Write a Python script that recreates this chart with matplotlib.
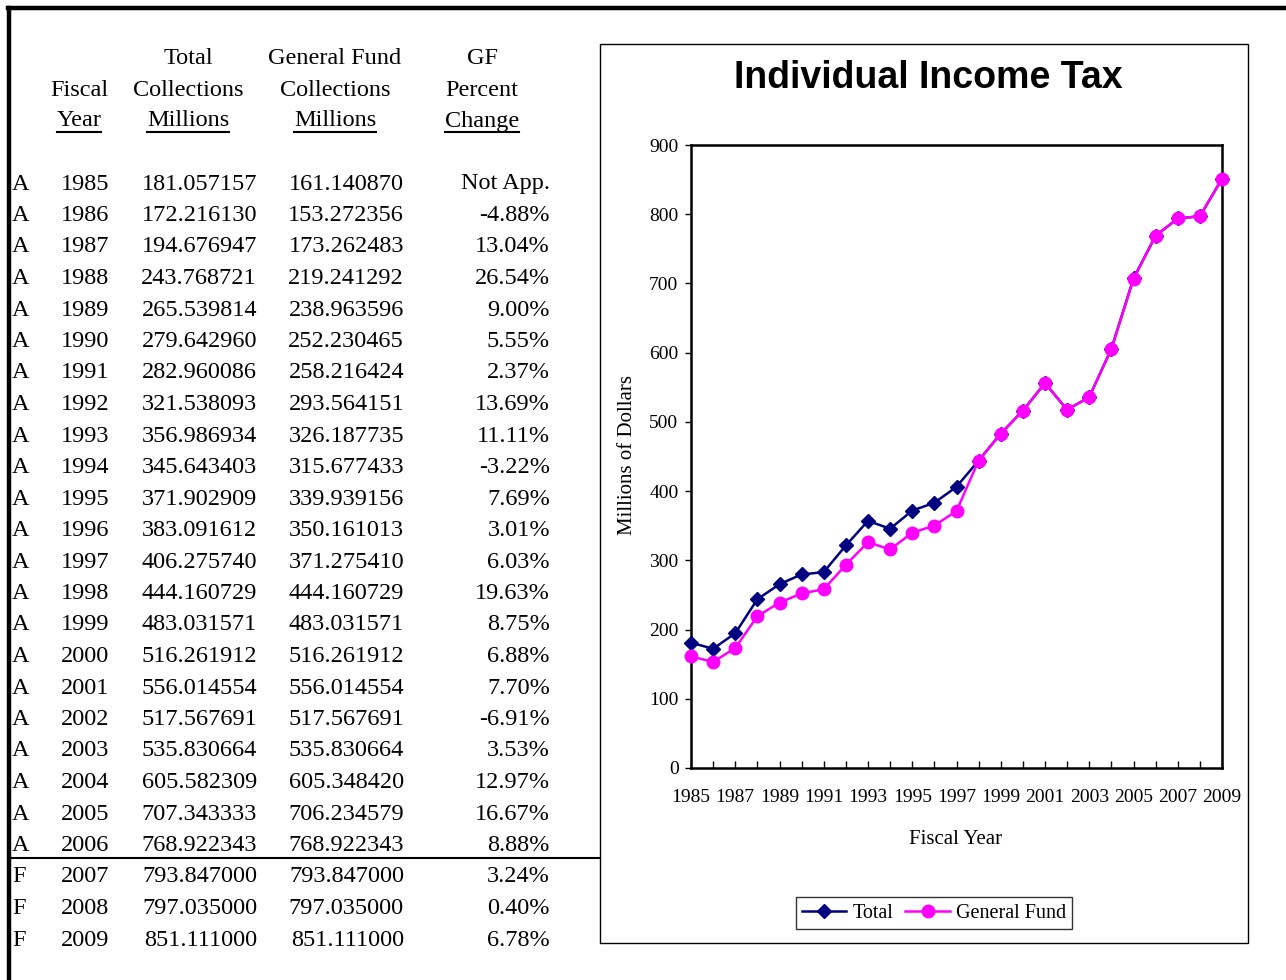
import matplotlib
matplotlib.use("Agg")
import matplotlib.pyplot as plt
from matplotlib.patches import Rectangle
from matplotlib.lines import Line2D

W, H = 1286, 980

status = ["A"] * 22 + ["F"] * 3
years = list(range(1985, 2010))
total = [181.057157, 172.216130, 194.676947, 243.768721, 265.539814, 279.642960,
         282.960086, 321.538093, 356.986934, 345.643403, 371.902909, 383.091612,
         406.275740, 444.160729, 483.031571, 516.261912, 556.014554, 517.567691,
         535.830664, 605.582309, 707.343333, 768.922343, 793.847000, 797.035000,
         851.111000]
general_fund = [161.140870, 153.272356, 173.262483, 219.241292, 238.963596, 252.230465,
                258.216424, 293.564151, 326.187735, 315.677433, 339.939156, 350.161013,
                371.275410, 444.160729, 483.031571, 516.261912, 556.014554, 517.567691,
                535.830664, 605.348420, 706.234579, 768.922343, 793.847000, 797.035000,
                851.111000]
pct_change = ["Not App.", "-4.88%", "13.04%", "26.54%", "9.00%", "5.55%", "2.37%",
              "13.69%", "11.11%", "-3.22%", "7.69%", "3.01%", "6.03%", "19.63%",
              "8.75%", "6.88%", "7.70%", "-6.91%", "3.53%", "12.97%", "16.67%",
              "8.88%", "3.24%", "0.40%", "6.78%"]

serif = "Liberation Serif"
sans = "Liberation Sans"

fig = plt.figure(figsize=(W / 100, H / 100), dpi=100)


def fx(x):
    return x / W


def fy(y):
    return 1 - y / H


# outer border (top and left)
fig.add_artist(Line2D([fx(9), fx(9)], [fy(8), fy(980)], color="black", lw=3.2))
fig.add_artist(Line2D([fx(8), fx(1286)], [fy(8), fy(8)], color="black", lw=3.2))

# table header
tsize = 17.5
headers = [
    (79, ["", "Fiscal", "Year"]),
    (188, ["Total", "Collections", "Millions"]),
    (335, ["General Fund", "Collections", "Millions"]),
    (482, ["GF", "Percent", "Change"]),
]
head_y = [58, 90, 121]
under = []
for cx, lines in headers:
    for hy, txt in zip(head_y, lines):
        if txt:
            t = fig.text(fx(cx), fy(hy), txt, ha="center", va="center",
                         fontsize=tsize, family=serif)
    under.append(t)

# table rows
row0, dy = 184, 31.5
for i in range(len(years)):
    y = fy(row0 + i * dy)
    fig.text(fx(12), y, status[i], ha="left", va="center", fontsize=tsize, family=serif)
    fig.text(fx(85), y, str(years[i]), ha="center", va="center", fontsize=tsize, family=serif)
    fig.text(fx(257), y, f"{total[i]:.6f}", ha="right", va="center", fontsize=tsize, family=serif)
    fig.text(fx(404), y, f"{general_fund[i]:.6f}", ha="right", va="center", fontsize=tsize, family=serif)
    fig.text(fx(550), y, pct_change[i], ha="right", va="center", fontsize=tsize, family=serif)

# divider between actual and forecast
fig.add_artist(Line2D([fx(9), fx(600)], [fy(858), fy(858)], color="black", lw=1.5))

# chart frame
fig.add_artist(Rectangle((fx(600), fy(943)), fx(1248) - fx(600), fy(44) - fy(943),
                         fill=False, edgecolor="black", lw=1.0))
fig.text(fx(928), fy(78), "Individual Income Tax", ha="center", va="center",
         fontsize=27, fontweight="bold", family=sans)

ax = fig.add_axes([fx(691), fy(768), fx(1222) - fx(691), fy(145) - fy(768)])
ax.plot(years, total, color="#000080", marker="D", markersize=7, lw=1.8, label="Total",
        clip_on=False, zorder=3)
ax.plot(years, general_fund, color="#FF00FF", marker="o", markersize=9, lw=1.8,
        label="General Fund", clip_on=False, zorder=4)
ax.set_xlim(1985, 2009)
ax.set_ylim(0, 900)
ax.set_yticks(range(0, 901, 100))
ax.set_xticks(years[::2])
ax.set_xticks(years, minor=True)
for s in ax.spines.values():
    s.set_linewidth(1.8)
ax.tick_params(axis="x", which="both", direction="in", length=5, width=1, pad=15,
               labelsize=14)
ax.tick_params(axis="y", direction="out", length=4, width=1, pad=5, labelsize=14)
for lab in ax.get_xticklabels() + ax.get_yticklabels():
    lab.set_family(serif)
fig.text(fx(628), fy(455), "Millions of Dollars", rotation=90, ha="center", va="center",
         fontsize=15, family=serif)
fig.text(fx(956), fy(839), "Fiscal Year", ha="center", va="center",
         fontsize=15, family=serif)
leg = fig.legend(loc="center", bbox_to_anchor=(fx(934), fy(913)), ncol=2, frameon=True,
                 fancybox=False, edgecolor="black", prop={"family": serif, "size": 14.5},
                 handlelength=2.2, handletextpad=0.3, columnspacing=0.6,
                 borderpad=0.3)
leg.get_frame().set_linewidth(1.0)

# underline header last row
fig.canvas.draw()
r = fig.canvas.get_renderer()
for t in under:
    bb = t.get_window_extent(r)
    yl = bb.y0 - 1
    fig.add_artist(Line2D([bb.x0 / W, bb.x1 / W], [yl / H, yl / H], color="black", lw=1.5))

fig.savefig("out.png", dpi=100)
